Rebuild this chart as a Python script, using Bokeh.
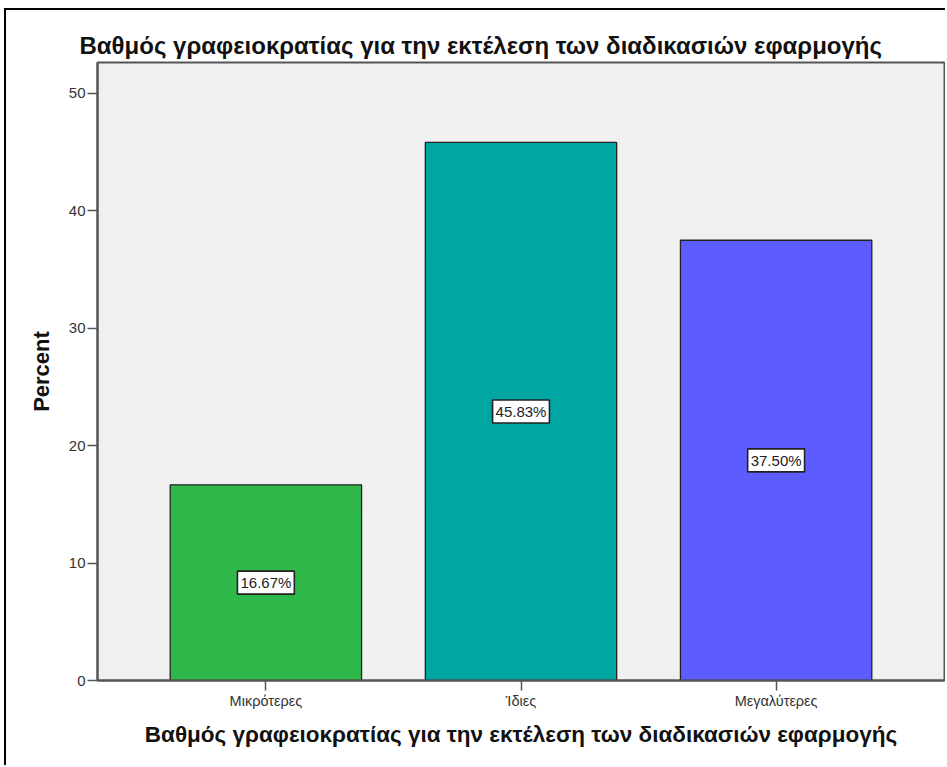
from bokeh.plotting import figure
from bokeh.models import ColumnDataSource, FactorRange, Range1d, FixedTicker
from bokeh.core.properties import value
from bokeh.embed import file_html
from bokeh.resources import INLINE

categories = ["Μικρότερες", "Ίδιες", "Μεγαλύτερες"]
percent = [16.67, 45.83, 37.50]
labels = ["16.67%", "45.83%", "37.50%"]
colors = ["#2fb84a", "#00a6a2", "#5c5cff"]
y_ticks = [0, 10, 20, 30, 40, 50]
title_text = "Βαθμός γραφειοκρατίας για την εκτέλεση των διαδικασιών εφαρμογής"

src = ColumnDataSource(dict(cat=categories, val=percent, half=[v / 2 for v in percent],
                            lab=labels, col=colors))

p = figure(width=941, height=757, output_backend="svg", toolbar_location=None,
           x_range=FactorRange(*categories, range_padding=0.16, range_padding_units="absolute"),
           y_range=Range1d(0, 52.64),
           min_border_left=91, min_border_top=52, min_border_right=3, min_border_bottom=87)
p.styles = {"margin-left": "4px", "margin-top": "8px",
            "border-top": "2px solid black", "border-left": "2px solid black"}

p.background_fill_color = "#f0f0f0"
p.border_fill_color = "white"
p.outline_line_color = "#555555"
p.outline_line_width = 2
p.grid.visible = False

p.vbar(x="cat", top="val", width=0.75, source=src, fill_color="col",
       line_color="#222222", line_width=1.3)

p.text(x="cat", y="half", text="lab", source=src, text_align="center",
       text_baseline="middle", text_font=value("Liberation Sans"), text_font_size="15px",
       text_color="#222222", background_fill_color="white",
       border_line_color="#222222", border_line_width=1.6, padding=3)

p.title.text = title_text
p.title.align = "left"
p.title.offset = -18
p.title.text_font = "Liberation Sans"
p.title.text_font_size = "24px"
p.title.text_font_style = "bold"
p.title.text_color = "#111111"
p.title.standoff = 7

p.yaxis.ticker = FixedTicker(ticks=y_ticks)
p.yaxis.axis_label = "Percent"
p.yaxis.axis_label_text_font = "Liberation Sans"
p.yaxis.axis_label_text_font_size = "22px"
p.yaxis.axis_label_text_font_style = "bold"
p.yaxis.axis_label_text_color = "#111111"
p.yaxis.major_label_text_font = "Liberation Sans"
p.yaxis.major_label_text_font_size = "15px"
p.yaxis.major_label_text_color = "#333333"
p.yaxis.major_label_standoff = 2
p.yaxis.minor_tick_line_color = None
p.yaxis.major_tick_in = 0
p.yaxis.major_tick_out = 10
p.yaxis.axis_line_color = "#555555"
p.yaxis.axis_line_width = 2
p.yaxis.major_tick_line_color = "#555555"
p.yaxis.major_tick_line_width = 1.5
p.yaxis.axis_label_standoff = 12

p.xaxis.axis_label = title_text
p.xaxis.axis_label_text_font = "Liberation Sans"
p.xaxis.axis_label_text_font_size = "22.5px"
p.xaxis.axis_label_text_font_style = "bold"
p.xaxis.axis_label_text_color = "#111111"
p.xaxis.major_label_text_font = "Liberation Sans"
p.xaxis.major_label_text_font_size = "14.5px"
p.xaxis.major_label_text_color = "#333333"
p.xaxis.major_label_standoff = 2
p.xaxis.major_tick_in = 0
p.xaxis.major_tick_out = 10
p.xaxis.axis_line_color = "#555555"
p.xaxis.axis_line_width = 2
p.xaxis.major_tick_line_color = "#555555"
p.xaxis.major_tick_line_width = 1.5
p.xaxis.axis_label_standoff = 10

open("out.html", "w").write(file_html(p, INLINE))
